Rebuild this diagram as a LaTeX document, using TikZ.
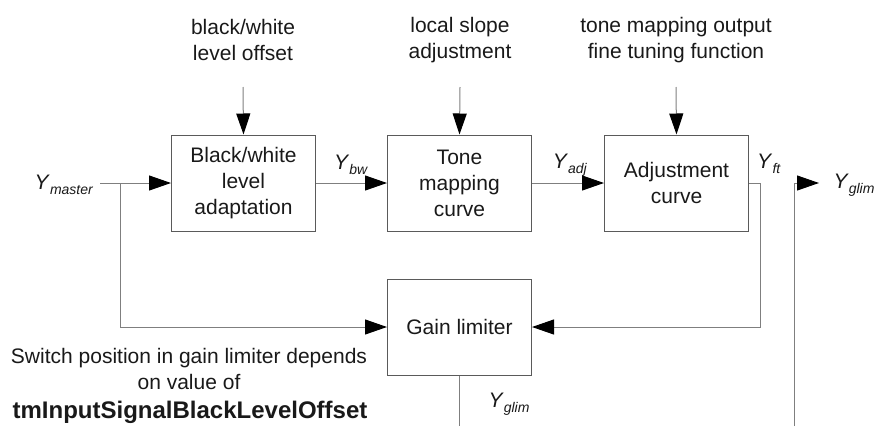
\documentclass[tikz,border=0pt]{standalone}
\usepackage{fontspec}
\setmainfont{Liberation Sans}
\usepackage{tikz}
\usetikzlibrary{arrows.meta}
\definecolor{boxline}{HTML}{5A5A5A}
\definecolor{wire}{HTML}{7F7F7F}
\newcommand{\sig}[1]{\textit{Y}\raisebox{-0.45ex}{\fontsize{14}{14}\selectfont\textit{#1}}}

\begin{document}
\begin{tikzpicture}[x=1pt, y=-1pt,
  every node/.style={font=\fontsize{21}{26}\selectfont, text=black!90},
  block/.style={draw=boxline, line width=1pt, minimum width=144pt, minimum height=96pt,
    inner sep=0pt, align=center},
  wire/.style={draw=wire, line width=1pt},
  flow/.style={wire, -{Triangle[length=22pt, width=15pt, color=black]}},
  down/.style={wire, -{Triangle[length=21pt, width=14pt, color=black]}}]
\useasboundingbox (0,0) rectangle (875,426);
%
\node[block] (bwa) at (243.5,183) {Black/white\\level\\adaptation};
\node[block] (tmc) at (459.5,183) {Tone\\mapping\\curve};
\node[block] (adj) at (676.5,183) {Adjustment\\curve};
\node[block] (gain) at (459.5,327) {Gain limiter};
%
\node[align=center] (inbw) at (243,40) {black/white\\level offset};
\node[align=center] (inslope) at (460,40) {local slope\\adjustment};
\node[align=center] (intune) at (676,40) {tone mapping output\\fine tuning function};
\coordinate (topbw) at (243,87);
\coordinate (topslope) at (460,87);
\coordinate (toptune) at (676,87);
\draw[down] (topbw) -- (bwa.north);
\draw[down] (topslope) -- (tmc.north);
\draw[down] (toptune) -- (adj.north);
%
\node (lmaster) at (64,185) {\sig{master}};
\node (lbw) at (351,165) {\sig{bw}};
\node (ladj) at (570,165) {\sig{adj}};
\node (lft) at (769,164) {\sig{ft}};
\node (lglimr) at (854,185) {\sig{glim}};
\node (lglimb) at (509,404) {\sig{glim}};
%
\coordinate (start) at (100,183);
\coordinate (split) at (120,183);
\coordinate (ftturn) at (760,183);
\coordinate (bottom) at (459.5,426);
\coordinate (outfoot) at (794,426);
\coordinate (outtop) at (794,183);
\coordinate (outend) at (819,183);
\draw[flow] (start) -- (bwa.west);
\draw[flow] (bwa.east) -- (tmc.west);
\draw[flow] (tmc.east) -- (adj.west);
\draw[flow] (split) |- (gain.west);
\draw[flow] (adj.east) -- (ftturn) |- (gain.east);
\draw[wire] (gain.south) -- (bottom);
\draw[flow] (outfoot) -- (outtop) -- (outend);
%
\node[align=center] (note) at (189,369) {Switch position in gain limiter depends\\on value of};
\node (param) at (190,412) {\fontsize{24}{28}\selectfont\bfseries tmInputSignalBlackLevelOffset};
\end{tikzpicture}
\end{document}
